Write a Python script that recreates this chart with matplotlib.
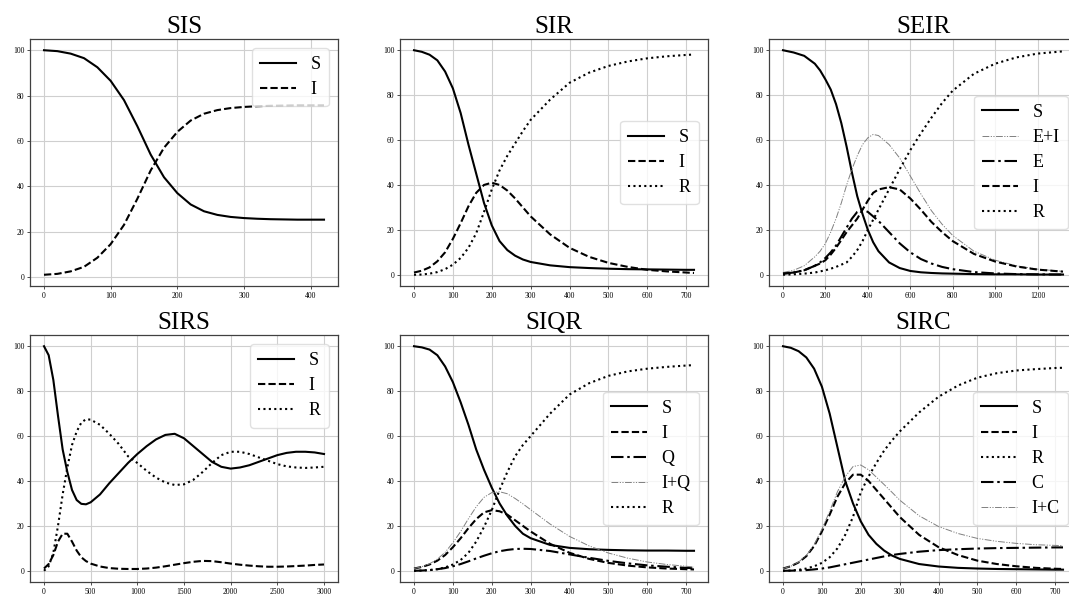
import matplotlib
matplotlib.use("Agg")
import matplotlib.pyplot as plt

plt.rcParams['font.family'] = ['Liberation Serif', 'DejaVu Serif']

# ---- SIS ----
sis_t = [0, 20, 40, 60, 80, 100, 120, 140, 160, 180, 200, 220, 240, 260, 280, 300, 320, 340, 360, 380, 400, 420]
sis_S = [100, 99.6, 98.5, 96.5, 92.5, 86.5, 78, 66.5, 54, 44, 37, 32, 29, 27.4, 26.5, 26, 25.7, 25.5, 25.4, 25.3, 25.3, 25.3]
sis_I = [1, 1.4, 2.5, 4.5, 8.5, 14.5, 23, 34.5, 47, 57, 64, 69, 72, 73.6, 74.5, 75, 75.3, 75.5, 75.6, 75.7, 75.7, 75.7]

# ---- SIR ----
sir_t = [0, 20, 40, 60, 80, 100, 120, 140, 160, 180, 200, 220, 240, 260, 280, 300, 350, 400, 450, 500, 550, 600, 650, 700, 720]
sir_S = [100, 99.3, 98, 95.5, 90.5, 83, 72, 58, 45, 32, 22, 15, 11, 8.5, 6.8, 5.7, 4.2, 3.4, 3, 2.7, 2.5, 2.4, 2.3, 2.2, 2.2]
sir_I = [1, 1.8, 3.3, 6, 10, 16, 23, 30.5, 36.5, 40, 41, 40, 37.5, 34, 30, 26, 18, 12, 8, 5.3, 3.5, 2.2, 1.5, 1, 0.8]
sir_R = [0, 0.1, 0.5, 1.2, 2.5, 4.5, 7.5, 12, 18.5, 28, 38, 46.5, 53, 58.5, 64, 69, 78, 85.5, 90, 93, 95, 96.4, 97.3, 97.9, 98.1]

# ---- SEIR ----
seir_t = [0, 50, 100, 150, 175, 200, 225, 250, 275, 300, 325, 350, 375, 400, 425, 450, 500, 550, 600, 650, 700, 750, 800, 900, 1000, 1100, 1200, 1320]
seir_S = [100, 99, 97.5, 94, 91, 87, 82.5, 76, 67.5, 57, 45.5, 35, 27, 20, 14.5, 10.5, 5.5, 3, 1.7, 1.1, 0.8, 0.6, 0.5, 0.3, 0.2, 0.2, 0.1, 0.1]
seir_EI = [1, 2, 4, 8, 10.5, 14, 19, 25, 32, 40, 47, 53, 58, 61, 62.5, 62, 58, 52, 44, 36, 28.5, 22.5, 17.5, 10.5, 6.5, 4, 2.5, 1.5]
seir_E = [0.5, 1, 2, 4, 5.5, 7.5, 10, 13, 17, 21, 25, 28, 29, 28, 26, 24, 19, 14, 10, 7, 5, 3.5, 2.5, 1.2, 0.6, 0.3, 0.2, 0.1]
seir_I = [0.5, 1, 2, 4, 5, 6.5, 9, 12, 15.5, 19, 22, 25, 29, 33, 36.5, 38, 39, 38, 34, 29, 23.5, 19, 15, 9.3, 5.9, 3.7, 2.3, 1.4]
seir_R = [0, 0.2, 0.5, 1, 1.5, 2, 2.7, 3.5, 4.5, 5.5, 8, 11, 15, 20, 24.5, 29, 38, 47, 55.5, 63, 70, 76.5, 82, 89.5, 94, 96.8, 98.5, 99.5]

# ---- SIRS ----
sirs_t = [0, 50, 100, 150, 200, 250, 300, 350, 400, 450, 500, 600, 700, 800, 900, 1000, 1100, 1200, 1300, 1400,
          1500, 1600, 1700, 1800, 1900, 2000, 2100, 2200, 2300, 2400, 2500, 2600, 2700, 2800, 2900, 3000]
sirs_S = [100, 96, 85, 69, 54, 44, 36, 31.5, 29.8, 29.6, 30.5, 34, 39, 43.5, 48, 52, 55.5, 58.5, 60.5, 61,
          59, 55.5, 52, 48.5, 46.3, 45.5, 46, 47, 48.5, 50, 51.5, 52.5, 53, 53, 52.7, 52]
sirs_I = [1, 3, 7, 13, 16.5, 16.5, 13, 9, 6, 4.3, 3.2, 1.9, 1.2, 0.9, 0.8, 0.8, 1, 1.4, 2, 2.7,
          3.4, 4, 4.4, 4.3, 3.8, 3.2, 2.7, 2.3, 2, 1.8, 1.8, 1.9, 2.1, 2.3, 2.6, 2.8]
sirs_R = [0, 2, 8, 20, 34, 46, 56, 62, 66, 67.5, 67.3, 65, 61, 56.5, 51, 48, 44.5, 41.5, 39.3, 38.2,
          38.5, 40.5, 44, 48, 51.5, 53, 53, 52, 50.5, 49, 47.5, 46.5, 46, 45.8, 46, 46.3]

# ---- SIQR ----
siqr_t = [0, 20, 40, 60, 80, 100, 120, 140, 160, 180, 200, 220, 240, 260, 280, 300, 350, 400, 450, 500, 550, 600, 650, 700, 720]
siqr_S = [100, 99.5, 98.5, 96, 91, 84, 75, 65, 54, 45, 37, 30, 24.5, 20, 16.5, 14.5, 11.5, 10.2, 9.6, 9.3, 9.1, 9, 9, 8.9, 8.9]
siqr_I = [1, 1.7, 2.8, 4.5, 7, 10.5, 14.5, 19, 23, 26, 27, 26.5, 25, 22.5, 20, 17.5, 12, 8, 5.3, 3.5, 2.3, 1.5, 1, 0.7, 0.6]
siqr_Q = [0, 0.1, 0.3, 0.7, 1.2, 2, 3, 4.2, 5.5, 6.7, 7.8, 8.7, 9.3, 9.7, 9.8, 9.7, 8.8, 7.3, 5.8, 4.4, 3.3, 2.4, 1.8, 1.3, 1.1]
siqr_IQ = [1, 1.8, 3.1, 5.2, 8.2, 12.5, 17.5, 23.2, 28.5, 32.7, 34.8, 35.2, 34.3, 32.2, 29.8, 27.2, 20.8, 15.3, 11.1, 7.9, 5.6, 3.9, 2.8, 2, 1.7]
siqr_R = [0, 0.1, 0.3, 0.7, 1.5, 2.8, 4.8, 8, 13, 19.5, 27, 36, 44, 51, 56, 60, 70, 78.5, 83.5, 86.8, 88.8, 90, 90.8, 91.4, 91.6]

# ---- SIRC ----
sirc_t = [0, 20, 40, 60, 80, 100, 120, 140, 160, 180, 200, 220, 240, 260, 280, 300, 350, 400, 450, 500, 550, 600, 650, 700, 720]
sirc_S = [100, 99.3, 97.8, 95, 90, 82, 70, 55, 40, 30, 22, 16, 12, 9, 6.8, 5.3, 3, 1.9, 1.3, 1, 0.8, 0.7, 0.6, 0.5, 0.5]
sirc_I = [1, 2, 3.7, 6.5, 11, 17.5, 25, 33, 39, 42.8, 42.8, 40, 36, 32, 28, 24, 16, 10.5, 7, 4.5, 3, 2, 1.3, 0.9, 0.8]
sirc_R = [0, 0.1, 0.4, 1, 2, 3.5, 6, 10, 16, 24, 35, 42, 48, 53.5, 58, 62, 70.5, 77.5, 82.5, 86, 88, 89.2, 89.8, 90.3, 90.4]
sirc_C = [0, 0.05, 0.15, 0.3, 0.6, 1, 1.5, 2.2, 2.9, 3.6, 4.3, 5, 5.7, 6.4, 7, 7.5, 8.5, 9.2, 9.6, 9.9, 10.1, 10.2, 10.3, 10.4, 10.4]
sirc_IC = [1, 2, 3.9, 6.8, 11.6, 18.5, 26.5, 35.2, 41.9, 46.4, 47.1, 45, 41.7, 38.4, 35, 31.5, 24.5, 19.7, 16.6, 14.4, 13.1, 12.2, 11.6, 11.3, 11.2]

# line styles
solid = dict(color='k', lw=1.5, ls='-')
dash = dict(color='k', lw=1.5, ls=(0, (3.5, 1.5)))
dot = dict(color='k', lw=1.5, ls=(0, (1, 1.6)))
dashdot = dict(color='k', lw=1.5, ls=(0, (6, 1.8, 1.2, 1.8)))
thin = dict(color='0.5', lw=0.7, ls=(0, (7, 1.5, 1.2, 1.5, 1.2, 1.5)))

W, H = 1069, 595
fig = plt.figure(figsize=(W / 100, H / 100), dpi=100)

lefts = [30, 400, 769]
aw = 308 / W
ah = 247 / H
bot_top = (595 - 286) / H
bot_bot = (595 - 582) / H


def make_ax(col, row):
    b = bot_top if row == 0 else bot_bot
    ax = fig.add_axes([lefts[col] / W, b, aw, ah])
    ax.grid(True, color='#cfcfcf', lw=0.8)
    ax.set_axisbelow(True)
    ax.tick_params(labelsize=5.5, length=2.5, width=0.7, color='0.3', pad=1.5)
    for sp in ax.spines.values():
        sp.set_color('0.25')
        sp.set_linewidth(0.9)
    return ax


def finish(ax, title, loc):
    ax.set_title(title, fontsize=18, pad=4.5)
    ax.set_yticks([0, 20, 40, 60, 80, 100])
    leg = ax.legend(loc=loc, fontsize=13, handlelength=2.0, labelspacing=0.45,
                    borderpad=0.45, handletextpad=0.8, fancybox=True, framealpha=0.8)
    leg.get_frame().set_edgecolor('0.85')


ax = make_ax(0, 0)
ax.plot(sis_t, sis_S, label='S', **solid)
ax.plot(sis_t, sis_I, label='I', **dash)
finish(ax, 'SIS', 'upper right')

ax = make_ax(1, 0)
ax.plot(sir_t, sir_S, label='S', **solid)
ax.plot(sir_t, sir_I, label='I', **dash)
ax.plot(sir_t, sir_R, label='R', **dot)
finish(ax, 'SIR', 'center right')

ax = make_ax(2, 0)
ax.plot(seir_t, seir_S, label='S', **solid)
ax.plot(seir_t, seir_EI, label='E+I', **thin)
ax.plot(seir_t, seir_E, label='E', **dashdot)
ax.plot(seir_t, seir_I, label='I', **dash)
ax.plot(seir_t, seir_R, label='R', **dot)
finish(ax, 'SEIR', 'center right')

ax = make_ax(0, 1)
ax.plot(sirs_t, sirs_S, label='S', **solid)
ax.plot(sirs_t, sirs_I, label='I', **dash)
ax.plot(sirs_t, sirs_R, label='R', **dot)
finish(ax, 'SIRS', 'upper right')

ax = make_ax(1, 1)
ax.plot(siqr_t, siqr_S, label='S', **solid)
ax.plot(siqr_t, siqr_I, label='I', **dash)
ax.plot(siqr_t, siqr_Q, label='Q', **dashdot)
ax.plot(siqr_t, siqr_IQ, label='I+Q', **thin)
ax.plot(siqr_t, siqr_R, label='R', **dot)
finish(ax, 'SIQR', 'center right')

ax = make_ax(2, 1)
ax.plot(sirc_t, sirc_S, label='S', **solid)
ax.plot(sirc_t, sirc_I, label='I', **dash)
ax.plot(sirc_t, sirc_R, label='R', **dot)
ax.plot(sirc_t, sirc_C, label='C', **dashdot)
ax.plot(sirc_t, sirc_IC, label='I+C', **thin)
finish(ax, 'SIRC', 'center right')

fig.savefig('out.png', dpi=100)
